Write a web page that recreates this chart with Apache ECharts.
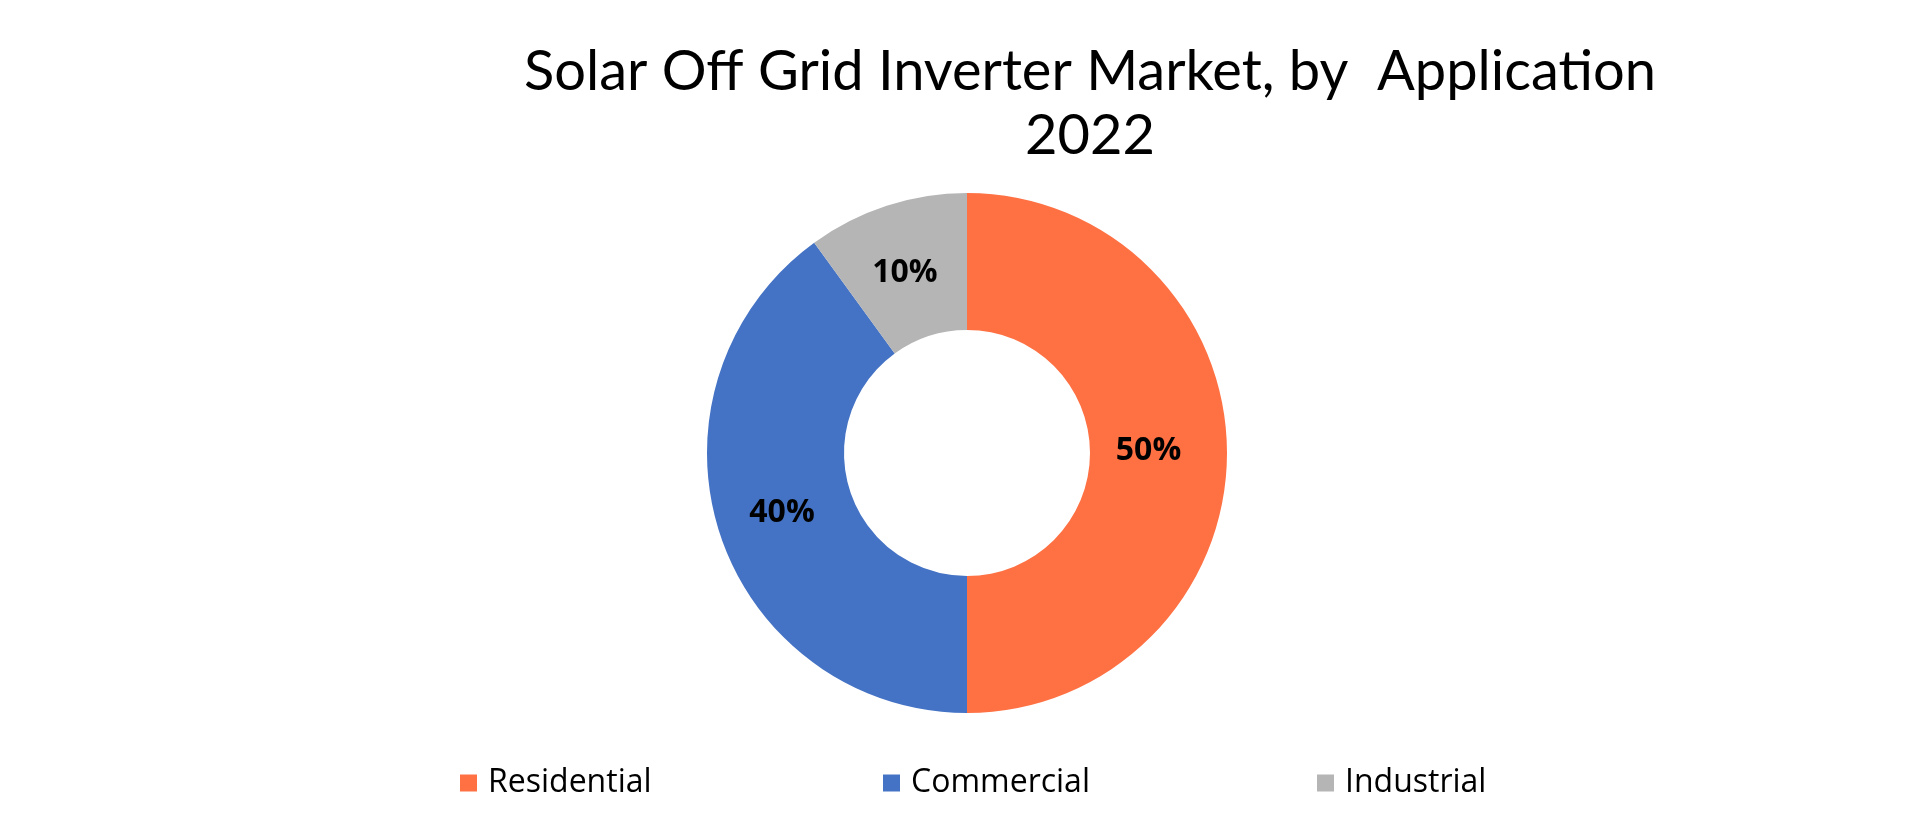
<!DOCTYPE html>
<html>
<head>
<meta charset="utf-8">
<title>Solar Off Grid Inverter Market, by Application</title>
<script src="https://cdn.jsdelivr.net/npm/echarts@6/dist/echarts.min.js"></script>
<style>
  html, body { margin: 0; padding: 0; background: #ffffff; }
  #chart { width: 1920px; height: 818px; }
</style>
</head>
<body>
<div id="chart"></div>
<script>
// 数据
var categories = ['Residential', 'Commercial', 'Industrial'];
var shares = [50, 40, 10];
var colors = ['#FF7043', '#4472C4', '#B5B5B5'];
// 标签微调偏移
var labelOffsets = [[-13, -2], [0, 0], [-2, 5]];

var pieData = categories.map(function (name, i) {
  return { name: name, value: shares[i], label: { offset: labelOffsets[i] } };
});

// 每个图例单独放，位置对齐原图
var legendLeft = [455, 878, 1312];
var legends = categories.map(function (name, i) {
  return {
    data: [name],
    left: legendLeft[i],
    top: 762,
    itemWidth: 17,
    itemHeight: 17,
    icon: 'rect',
    itemGap: 0,
    selectedMode: false,
    textStyle: {
      fontFamily: 'Open Sans',
      fontSize: 32,
      color: '#000000',
      padding: [0, 0, 0, 6]
    }
  };
});

var chart = echarts.init(document.getElementById('chart'));
chart.setOption({
  backgroundColor: '#ffffff',
  color: colors,
  animation: false,
  title: {
    text: 'Solar Off Grid Inverter Market, by  Application\n2022',
    left: 1085,
    top: 35,
    textAlign: 'center',
    textStyle: {
      fontFamily: 'Lato',
      fontWeight: 'normal',
      fontSize: 56,
      lineHeight: 64,
      color: '#000000'
    }
  },
  legend: legends,
  series: [
    {
      name: 'Application',
      type: 'pie',
      center: [967, 453],
      radius: [123, 260],
      startAngle: 90,
      clockwise: true,
      avoidLabelOverlap: false,
      data: pieData,
      itemStyle: { borderWidth: 0 },
      label: {
        show: true,
        position: 'inside',
        formatter: '{c}%',
        fontFamily: 'Open Sans',
        fontWeight: 'bold',
        fontSize: 32,
        color: '#000000'
      },
      labelLine: { show: false },
      emphasis: { disabled: true }
    }
  ]
});
</script>
</body>
</html>
